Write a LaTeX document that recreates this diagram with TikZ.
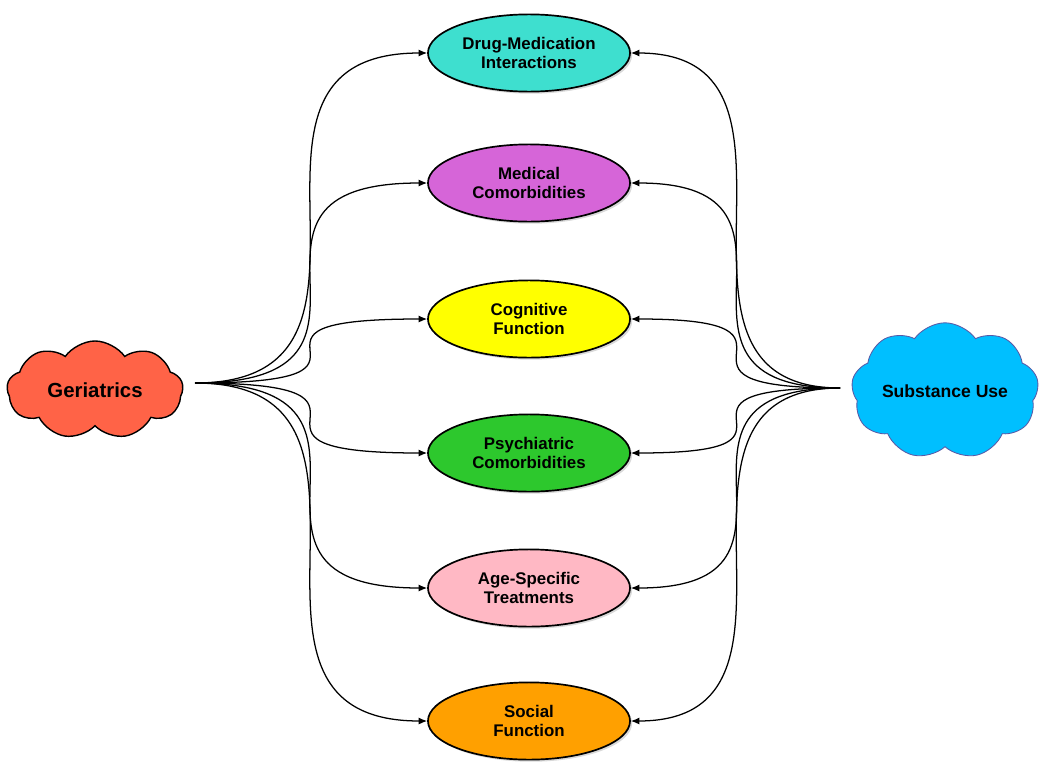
\documentclass[tikz,border=0pt]{standalone}
\usepackage{fontspec}
\setmainfont{Liberation Sans}
\usetikzlibrary{shapes.geometric,shapes.symbols,shadows,arrows.meta}
\definecolor{turq}{HTML}{3EDFCF}
\definecolor{orchid}{HTML}{D665D8}
\definecolor{yel}{HTML}{FFFF00}
\definecolor{grn}{HTML}{2DC82D}
\definecolor{pnk}{HTML}{FFB8C4}
\definecolor{orng}{HTML}{FFA000}
\definecolor{tomato}{HTML}{FF6347}
\definecolor{sky}{HTML}{00BFFF}
\tikzset{
  topic/.style={ellipse, draw, line width=1.2pt, minimum width=5.05cm, minimum height=1.93cm,
    inner sep=0pt, align=center, font=\bfseries\fontsize{12}{13.5}\selectfont,
    drop shadow={shadow xshift=1.5pt, shadow yshift=-1.5pt, opacity=0.3}},
  puff/.style={cloud, cloud puffs=9, cloud puff arc=110, draw, inner sep=0pt, font=\bfseries},
  link/.style={line width=0.9pt, -{Latex[length=6pt,width=5pt]}}
}
\begin{document}
\begin{tikzpicture}[x=0.025cm, y=-0.025cm]
\useasboundingbox (0,0) rectangle (1050,776);
% the two clouds
\node[puff, fill=tomato, line width=1pt, minimum width=4.4cm, minimum height=2.45cm, aspect=1.8,
  font=\bfseries\fontsize{14.5}{16}\selectfont] (ger) at (95,390) {Geriatrics};
\node[puff, fill=sky, draw=gray!70!blue, line width=0.6pt, minimum width=4.4cm, minimum height=2.7cm, aspect=1.6,
  font=\bfseries\fontsize{12.5}{14}\selectfont] (sub) at (945,391) {Substance Use};
\coordinate (gerHub) at (195,383);
\coordinate (subHub) at (840,388);
% the six topics
\node[topic, fill=turq] (drug) at (529,53) {Drug-Medication\\Interactions};
\node[topic, fill=orchid] (medical) at (529,183) {Medical\\Comorbidities};
\node[topic, fill=yel] (cognitive) at (529,319) {Cognitive\\Function};
\node[topic, fill=grn] (psych) at (529,453) {Psychiatric\\Comorbidities};
\node[topic, fill=pnk] (age) at (529,588) {Age-Specific\\Treatments};
\node[topic, fill=orng] (social) at (529,721) {Social\\Function};
% links
\foreach \t in {drug,medical,cognitive,psych,age,social} {
  \draw[link] (gerHub) .. controls +(233,0) and +(-233,0) .. (\t.west);
  \draw[link] (subHub) .. controls +(-210,0) and +(210,0) .. (\t.east);
}
\end{tikzpicture}
\end{document}
